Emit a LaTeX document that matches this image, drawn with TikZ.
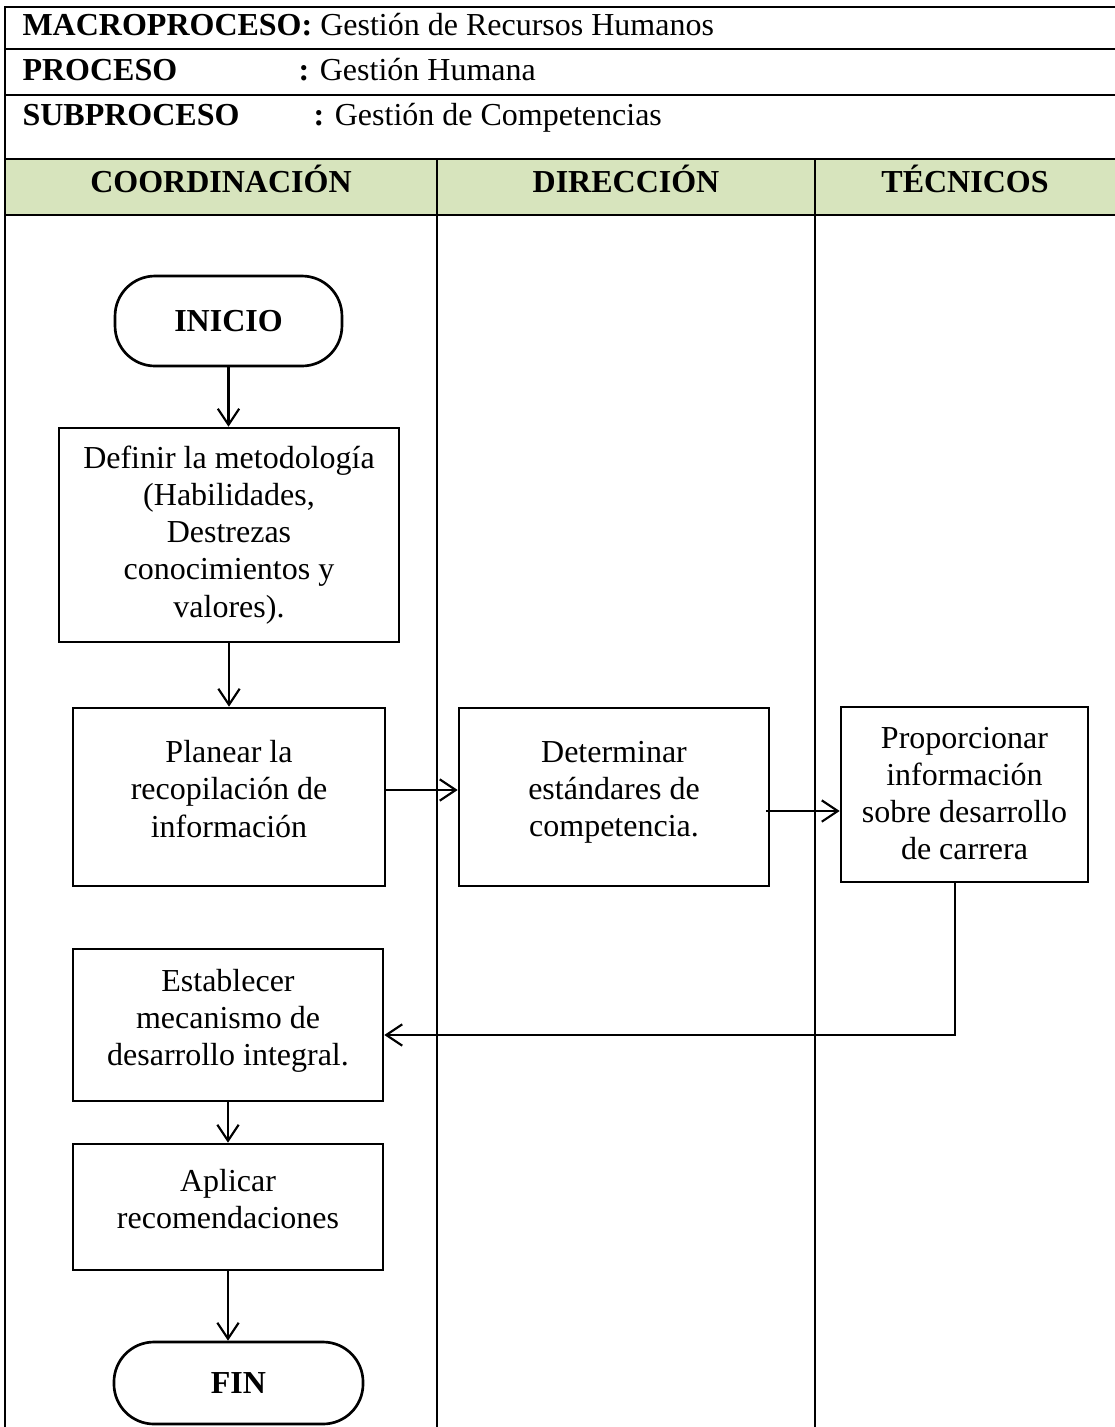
\documentclass[tikz,border=0pt]{standalone}
\usepackage{fontspec}
\setmainfont{Liberation Serif}
\usetikzlibrary{arrows.meta,calc}
\definecolor{lanegreen}{HTML}{D7E4BD}
\begin{document}
\begin{tikzpicture}[x=0.375pt,y=-0.375pt,
  font=\fontsize{12}{13.9}\selectfont,
  tline/.style={line width=0.75pt},
  procbox/.style={draw, line width=1pt, inner sep=0pt},
  termbox/.style={draw, line width=1pt, rounded corners=15pt, inner sep=0pt, font=\fontsize{12}{13.9}\selectfont\bfseries},
  txt/.style={align=center, inner sep=0pt},
  hdr/.style={anchor=base west, inner sep=0pt},
  lanehdr/.style={anchor=base, inner sep=0pt, font=\fontsize{12}{13.9}\selectfont\bfseries},
  flow/.style={line width=0.8pt, -{Straight Barb[length=6pt,width=8pt]}}
]
\useasboundingbox (0,0) rectangle (1115,1427);
% table
\fill[lanegreen] (5,159) rectangle (1115,215);
\draw[tline] (5,1427) -- (5,7) -- (1115,7);
\draw[tline] (5,49) -- (1115,49);
\draw[tline] (5,95) -- (1115,95);
\draw[tline] (5,159) -- (1115,159);
\draw[tline] (5,215) -- (1115,215);
\draw[tline] (437,159) -- (437,1427);
\draw[tline] (815,159) -- (815,1427);
% header texts
\node[hdr] (macro) at (22,35) {\textbf{MACROPROCESO:} Gestión de Recursos Humanos};
\node[hdr] (proc) at (22,80) {\textbf{PROCESO}};
\node[hdr] (procv) at (298,80) {\textbf{:} Gestión Humana};
\node[hdr] (sub) at (22,125) {\textbf{SUBPROCESO}};
\node[hdr] (subv) at (313,125) {\textbf{:} Gestión de Competencias};
\node[lanehdr] (l1) at (221,192) {COORDINACIÓN};
\node[lanehdr] (l2) at (626,192) {DIRECCIÓN};
\node[lanehdr] (l3) at (965,192) {TÉCNICOS};
% nodes
\node[termbox, minimum width=85.1pt, minimum height=33.75pt] (inicio) at (228.5,321) {INICIO};
\node[procbox, minimum width=127.5pt, minimum height=80.25pt] (definir) at (229,535) {};
\node[txt] (definirt) at (definir) {Definir la metodología\\(Habilidades,\\Destrezas\\conocimientos y\\valores).};
\node[procbox, minimum width=117pt, minimum height=66.75pt] (planear) at (229,797) {};
\node[txt, yshift=3pt] (planeart) at (planear) {Planear la\\recopilación de\\información};
\node[procbox, minimum width=116.25pt, minimum height=66.75pt] (determinar) at (614,797) {};
\node[txt, yshift=1.8pt] (determinart) at (determinar) {Determinar\\estándares de\\competencia.};
\node[procbox, minimum width=92.6pt, minimum height=65.6pt] (proporcionar) at (964.5,794.5) {};
\node[txt, yshift=0.5pt] (proporcionart) at (proporcionar) {Proporcionar\\información\\sobre desarrollo\\de carrera};
\node[procbox, minimum width=116.25pt, minimum height=57pt] (establecer) at (228,1025) {};
\node[txt, yshift=1.5pt] (establecert) at (establecer) {Establecer\\mecanismo de\\desarrollo integral.};
\node[procbox, minimum width=116.25pt, minimum height=47.25pt] (aplicar) at (228,1207) {};
\node[txt, yshift=3pt] (aplicart) at (aplicar) {Aplicar\\recomendaciones};
\node[termbox, minimum width=93.4pt, minimum height=30.75pt] (fin) at (238.5,1383) {FIN};
% connectors
\coordinate (y790) at (0,790);
\coordinate (y811) at (0,811);
\coordinate (bend) at (955,1035);
\draw[flow] (inicio.south) -- (inicio.south |- definir.north);
\draw[flow] (definir.south) -- (definir.south |- planear.north);
\draw[flow] (planear.east |- y790) -- (determinar.west |- y790);
\draw[flow] ([xshift=-1.5pt]determinar.east |- y811) -- (proporcionar.west |- y811);
\draw[flow] (proporcionar.south -| bend) -- (bend) -- (establecer.east |- bend);
\draw[flow] (establecer.south) -- (establecer.south |- aplicar.north);
\draw[flow] (aplicar.south) -- (aplicar.south |- fin.north);
\end{tikzpicture}
\end{document}
